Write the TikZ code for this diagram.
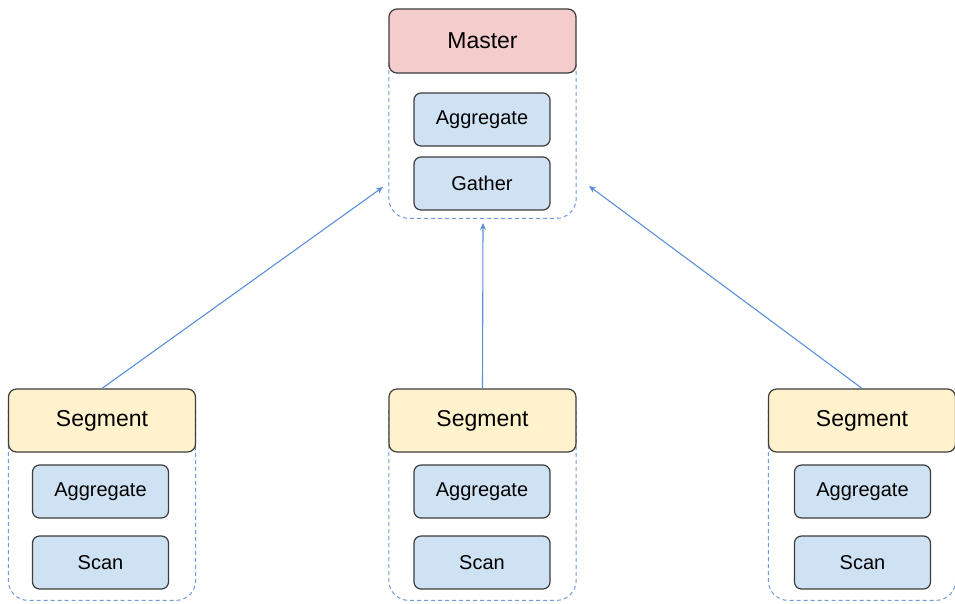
\documentclass[tikz,border=0pt]{standalone}
\usepackage{fontspec}
\setmainfont{Liberation Sans}
\usetikzlibrary{arrows.meta}
\definecolor{edge}{HTML}{3C3C3C}
\definecolor{masterfill}{HTML}{F4CCCC}
\definecolor{segfill}{HTML}{FFF2CC}
\definecolor{opfill}{HTML}{CFE2F3}
\definecolor{frame}{HTML}{6F9BDD}
\definecolor{link}{HTML}{5B8FD9}
\tikzset{
  x=1pt, y=-1pt,
  header/.style={draw=edge, line width=1.2pt, rounded corners=8pt,
    minimum width=187pt, minimum height=64pt, inner sep=0pt,
    font=\fontsize{23}{26}\selectfont},
  opbox/.style={draw=edge, line width=1.2pt, rounded corners=7pt, fill=opfill,
    minimum width=136pt, minimum height=53pt, inner sep=0pt,
    font=\fontsize{20}{23}\selectfont},
  body/.style={inner sep=0pt, minimum width=187pt, anchor=north},
  frameline/.style={draw=frame, line width=1pt, dash pattern=on 4pt off 3pt,
    rounded corners=20pt},
  flow/.style={draw=link, line width=1.1pt, -{Stealth[length=7pt,width=6pt]}},
}
\begin{document}
\begin{tikzpicture}
\useasboundingbox (0,0) rectangle (955,603);

% master column
\node[body, minimum height=155pt] (mbody) at (482.5,63) {};
\draw[frameline] (mbody.north west) -- (mbody.south west) -- (mbody.south east) -- (mbody.north east);
\node[header, fill=masterfill] (master) at (482.5,41) {Master};
\node[opbox] (magg) at (482,119.5) {Aggregate};
\node[opbox] (mgat) at (482,183.5) {Gather};

% segment columns
\foreach \n/\cx/\ix in {a/102/100.5, b/482.5/482, c/862/862.5} {
  \node[body, minimum height=190pt] (body\n) at (\cx,410) {};
  \draw[frameline] (body\n.north west) -- (body\n.south west) -- (body\n.south east) -- (body\n.north east);
  \node[header, fill=segfill, minimum height=63pt] (seg\n) at (\cx,420.5) {Segment};
  \node[opbox] (agg\n) at (\ix,491.5) {Aggregate};
  \node[opbox] (scan\n) at (\ix,562.5) {Scan};
}

% links into the master frame
\coordinate (inL) at (383,187);
\coordinate (inM) at (483,223);
\coordinate (inR) at (589,186);
\draw[flow] (sega.north) -- (inL);
\draw[flow] (segb.north) -- (inM);
\draw[flow] (segc.north) -- (inR);
\end{tikzpicture}
\end{document}
